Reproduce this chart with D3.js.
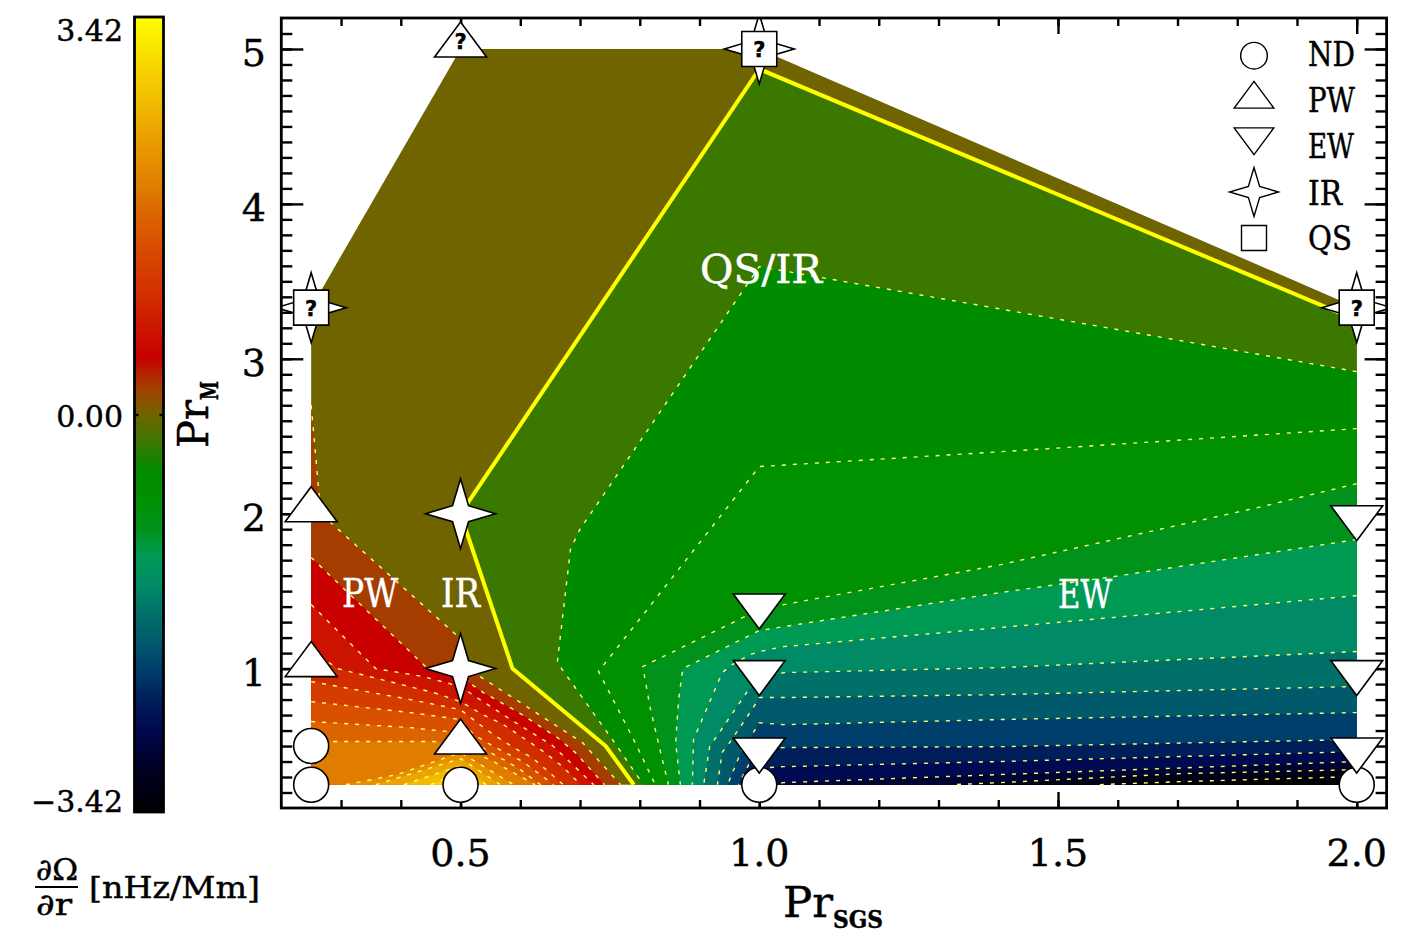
<!DOCTYPE html>
<html>
<head>
<meta charset="utf-8">
<style>
  body { margin: 0; background: #fff; }
  text { font-family: "DejaVu Serif"; fill: #000; stroke: #000; stroke-width: 0.45px; }
</style>
<script src="https://cdn.jsdelivr.net/npm/d3@7"></script>
</head>
<body>
<svg id="chart" width="1417" height="944"></svg>
<script>

// DATA
// --------------------------------------------------------------------------

// Contour levels of the rotation gradient, nHz/Mm.
var levels = [0, 0.24, 0.49, 0.73, 0.98, 1.22, 1.47, 1.71, 1.95, 2.2, 2.44,
  2.69, 2.93, 3.18, 3.42];

// Colour table.
var barValues = [-3.42, -3.0, -2.69, -2.44, -2.2, -1.95, -1.71, -1.47, -1.22,
  -0.98, -0.73, -0.49, -0.24, 0, 0.24, 0.49, 0.73, 0.98, 1.22, 1.47, 1.71,
  1.95, 2.2, 2.44, 2.69, 2.93, 3.18, 3.42];
var barColors = ['#000000', '#000028', '#000a50', '#001f5a', '#003e6c',
  '#005a6c', '#007068', '#008a66', '#009a55', '#00921a', '#009000', '#008c00',
  '#3a7800', '#706400', '#a53c00', '#c80000', '#cc1400', '#d12c00', '#d43c00',
  '#d85000', '#dc6400', '#e07c00', '#e69000', '#eca400', '#f0bc00', '#f6d000',
  '#fae800', '#ffff00'];
var barTicks = [-3.42, 0, 3.42];
var barTickLabels = ['\u22123.42', '0.00', '3.42'];

// Outline of the sampled parameter space [Pr_SGS, Pr_M].
var hull = [[0.25, 0.25], [0.25, 3.33], [0.5, 5], [1, 5], [2, 3.33], [2, 0.25]];

// Zero contour.
var zeroContour = [[2, 3.25], [1, 4.87], [0.5, 2], [0.587, 1], [0.743, 0.5],
  [0.79, 0.25]];

// Contours of positive gradient, one per level above zero.
var positiveContours = [
  [[0.25, 2.7], [0.266, 2], [0.492, 1.22], [0.512, 1], [0.704, 0.522], [0.768, 0.25]],
  [[0.25, 1.717], [0.445, 1], [0.5, 0.948], [0.538, 0.845], [0.595, 0.722], [0.662, 0.555], [0.692, 0.458], [0.741, 0.25]],
  [[0.25, 1.413], [0.358, 1], [0.438, 0.948], [0.5, 0.884], [0.525, 0.819], [0.584, 0.671], [0.654, 0.503], [0.723, 0.25]],
  [[0.25, 1.123], [0.294, 1], [0.455, 0.845], [0.5, 0.787], [0.537, 0.703], [0.572, 0.638], [0.604, 0.555], [0.639, 0.464], [0.671, 0.367], [0.701, 0.25]],
  [[0.25, 0.916], [0.416, 0.8], [0.5, 0.735], [0.528, 0.651], [0.555, 0.574], [0.589, 0.49], [0.62, 0.425], [0.647, 0.335], [0.672, 0.25]],
  [[0.25, 0.787], [0.416, 0.716], [0.5, 0.671], [0.522, 0.574], [0.55, 0.509], [0.575, 0.458], [0.604, 0.4], [0.656, 0.25]],
  [[0.25, 0.658], [0.416, 0.619], [0.461, 0.6], [0.5, 0.587], [0.547, 0.464], [0.572, 0.413], [0.6, 0.348], [0.634, 0.25]],
  [[0.25, 0.529], [0.455, 0.529], [0.5, 0.503], [0.555, 0.4], [0.625, 0.25]],
  [[0.308, 0.25], [0.394, 0.316], [0.5, 0.458], [0.589, 0.25]],
  [[0.358, 0.25], [0.5, 0.419], [0.567, 0.25]],
  [[0.405, 0.25], [0.5, 0.374], [0.543, 0.25]],
  [[0.45, 0.25], [0.5, 0.329], [0.521, 0.25]],
  [[0.487, 0.25], [0.5, 0.283], [0.51, 0.25]]
];

// Contours of negative gradient, one per level below zero.
var negativeContours = [
  [[2, 2.917], [1, 3.595], [0.7, 1.9], [0.684, 1.77], [0.662, 1.039], [0.76, 0.51], [0.806, 0.25]],
  [[2, 2.549], [1.404, 2.4], [1, 2.304], [0.731, 0.981], [0.79, 0.54], [0.826, 0.25]],
  [[2, 2.194], [1.834, 2.039], [1.404, 1.671], [1.041, 1.413], [1, 1.381], [0.805, 1.013], [0.818, 0.735], [0.835, 0.458], [0.848, 0.25]],
  [[2, 1.833], [1.593, 1.594], [1.404, 1.491], [1.041, 1.271], [1, 1.245], [0.872, 1], [0.865, 0.8], [0.86, 0.52], [0.868, 0.25]],
  [[2, 1.471], [1.404, 1.265], [1.041, 1.142], [1, 1.11], [0.985, 1.09], [0.955, 1.026], [0.938, 0.974], [0.89, 0.542], [0.888, 0.25]],
  [[2, 1.11], [1.404, 1.006], [1.041, 0.974], [1, 0.93], [0.98, 0.852], [0.917, 0.496], [0.907, 0.25]],
  [[2, 0.884], [1.404, 0.832], [1.041, 0.813], [1, 0.813], [0.99, 0.748], [0.95, 0.52], [0.938, 0.46], [0.93, 0.25]],
  [[2, 0.716], [1.404, 0.671], [1.041, 0.638], [1, 0.65], [0.99, 0.587], [0.969, 0.458], [0.947, 0.25]],
  [[2, 0.542], [1.404, 0.496], [1.041, 0.49], [1, 0.48], [0.985, 0.4], [0.965, 0.25]],
  [[2, 0.464], [1.404, 0.4], [1.041, 0.367], [1.014, 0.361], [0.99, 0.25]],
  [[2, 0.4], [1.404, 0.316], [1.041, 0.264], [1.02, 0.25]],
  [[2, 0.348], [1.705, 0.322], [1.404, 0.264], [1.32, 0.25]],
  [[2, 0.303], [1.705, 0.27], [1.563, 0.25]]
];

// Simulations, by regime.
var runsND = [[0.25, 0.25], [0.25, 0.5], [0.5, 0.25], [1, 0.25], [2, 0.25]];
var runsPW = [[0.25, 1], [0.25, 2], [0.5, 0.5]];
var runsPWUnsure = [[0.5, 5]];
var runsEW = [[1, 0.5], [1, 1], [1, 1.43], [2, 0.5], [2, 1], [2, 2]];
var runsIR = [[0.5, 1], [0.5, 2]];
var runsQSIRUnsure = [[0.25, 3.33], [1, 5], [2, 3.33]];

var legendLabels = ['ND', 'PW', 'EW', 'IR', 'QS'];
var xMajorTicks = [0.5, 1, 1.5, 2];
var xMinorTicks = d3.range(3, 21).map(function(d) { return d / 10; });
var yMajorTicks = [1, 2, 3, 4, 5];
var yMinorTicks = d3.range(2, 52).map(function(d) { return d / 10; });


// SCALES
// --------------------------------------------------------------------------

var x = d3.scaleLinear().domain([0.2, 2.05]).range([281.3, 1386.6]);
var y = d3.scaleLinear().domain([0.1, 5.2]).range([808, 18]);
var barY = d3.scaleLinear().domain([-3.42, 3.42]).range([812, 17]);
var color = d3.scaleLinear().domain(barValues).range(barColors);

var svg = d3.select('#chart');
var toPath = d3.line()
  .x(function(d) { return x(d[0]); })
  .y(function(d) { return y(d[1]); });


// MARKERS
// --------------------------------------------------------------------------

function polygon(points) {
  return {
    draw: function(context, size) {
      var s = Math.sqrt(size);
      points.forEach(function(p, i) {
        if (i) context.lineTo(p[0] * s, p[1] * s);
        else context.moveTo(p[0] * s, p[1] * s);
      });
      context.closePath();
    }
  };
}

var shapeCircle = {
  draw: function(context, size) {
    var r = 17.5 * Math.sqrt(size);
    context.moveTo(r, 0);
    context.arc(0, 0, r, 0, 2 * Math.PI);
  }
};
var shapeUp = polygon([[0, -27], [26, 8], [-26, 8]]);
var shapeDown = polygon([[0, 27], [26, -8], [-26, -8]]);
var shapeSquare = polygon([[-17.5, -17.5], [17.5, -17.5], [17.5, 17.5], [-17.5, 17.5]]);
var shapeStar = polygon([[0, -35], [8, -8], [35, 0], [8, 8], [0, 35], [-8, 8],
  [-35, 0], [-8, -8]]);


// FILLED CONTOURS
// --------------------------------------------------------------------------

var plot = svg.append('g');

plot.append('path')
  .attr('d', toPath(hull) + 'Z')
  .attr('fill', color(levels[0]));

// Each region is painted over the one before it, from zero outwards.
positiveContours.forEach(function(line, i) {
  var closed = line[0][0] === 0.25 ? line.concat([[0.25, 0.25]]) : line;
  plot.append('path')
    .attr('d', toPath(closed) + 'Z')
    .attr('fill', color(levels[i + 1]));
});

[zeroContour].concat(negativeContours).forEach(function(line, i) {
  plot.append('path')
    .attr('d', toPath(line.concat([[2, 0.25]])) + 'Z')
    .attr('fill', color(-levels[i + 1]));
});

// Dashed contour lines, then the solid zero line.
plot.selectAll('path.contour')
  .data(positiveContours.concat(negativeContours))
  .enter().append('path')
  .attr('class', 'contour')
  .attr('d', toPath)
  .attr('fill', 'none')
  .attr('stroke', '#ffff70')
  .attr('stroke-width', 1.4)
  .attr('stroke-dasharray', '4 7');

plot.append('path')
  .attr('d', toPath(zeroContour))
  .attr('fill', 'none')
  .attr('stroke', '#ffff00')
  .attr('stroke-width', 4);


// REGIME LABELS
// --------------------------------------------------------------------------

function label(parent, str, px, py, size, width, fill) {
  var t = parent.append('text')
    .attr('x', px)
    .attr('y', py)
    .style('font-size', size + 'px')
    .text(str);
  if (width) t.attr('textLength', width).attr('lengthAdjust', 'spacingAndGlyphs');
  if (fill) t.style('fill', fill).style('stroke', fill);
  return t;
}

label(svg, 'PW', 342, 607, 39, 56, '#fff');
label(svg, 'IR', 441, 607, 39, 39, '#fff');
label(svg, 'EW', 1058, 608, 39, 54, '#fff');
label(svg, 'QS/IR', 700, 283, 39, 122, '#fff');


// AXES
// --------------------------------------------------------------------------

function styleAxis(g) {
  g.select('.domain').remove();
  g.selectAll('line').attr('stroke', '#000').attr('stroke-width', 2.4);
}

function addAxis(axis, values, length, dx, dy) {
  svg.append('g')
    .attr('transform', 'translate(' + dx + ',' + dy + ')')
    .call(axis.tickValues(values).tickSize(-length).tickFormat(''))
    .call(styleAxis);
}

var left = x.range()[0], right = x.range()[1];
var bottom = y.range()[0], top_ = y.range()[1];

addAxis(d3.axisBottom(x), xMinorTicks, 8, 0, bottom);
addAxis(d3.axisBottom(x), xMajorTicks, 16, 0, bottom);
addAxis(d3.axisTop(x), xMinorTicks, 8, 0, top_);
addAxis(d3.axisTop(x), xMajorTicks, 16, 0, top_);
addAxis(d3.axisLeft(y), yMinorTicks, 11, left, 0);
addAxis(d3.axisLeft(y), yMajorTicks, 22, left, 0);
addAxis(d3.axisRight(y), yMinorTicks, 11, right, 0);
addAxis(d3.axisRight(y), yMajorTicks, 22, right, 0);

svg.selectAll('text.xtick')
  .data(xMajorTicks)
  .enter().append('text')
  .attr('class', 'xtick')
  .attr('x', function(d) { return x(d); })
  .attr('y', 866)
  .attr('text-anchor', 'middle')
  .style('font-size', '38px')
  .text(d3.format('.1f'));

svg.selectAll('text.ytick')
  .data(yMajorTicks)
  .enter().append('text')
  .attr('class', 'ytick')
  .attr('x', 266)
  .attr('y', function(d) { return y(d) + 17; })
  .attr('text-anchor', 'end')
  .style('font-size', '38px')
  .text(String);

label(svg, 'Pr', 783, 917, 42, 50);
label(svg, 'SGS', 833, 928, 24, 50).style('font-weight', 'bold');

svg.append('g')
  .attr('transform', 'translate(208,448) rotate(-90)')
  .call(function(g) {
    label(g, 'Pr', 0, 0, 42, 48);
    label(g, 'M', 48, 10, 24, 19).style('font-weight', 'bold');
  });


// SIMULATION MARKERS
// --------------------------------------------------------------------------

svg.append('clipPath').attr('id', 'frame')
  .append('rect')
  .attr('x', left).attr('y', top_)
  .attr('width', right - left)
  .attr('height', bottom - top_);

var marks = svg.append('g').attr('clip-path', 'url(#frame)');

function drawRuns(runs, shape) {
  marks.selectAll(null)
    .data(runs)
    .enter().append('path')
    .attr('d', d3.symbol().type(shape).size(1))
    .attr('transform', function(d) {
      return 'translate(' + x(d[0]) + ',' + y(d[1]) + ')';
    })
    .attr('fill', '#fff')
    .attr('stroke', '#000')
    .attr('stroke-width', 1.6);
}

function drawQuestion(runs, dy) {
  marks.selectAll(null)
    .data(runs)
    .enter().append('text')
    .attr('x', function(d) { return x(d[0]); })
    .attr('y', function(d) { return y(d[1]) + dy; })
    .attr('text-anchor', 'middle')
    .style('font-family', '"DejaVu Sans"')
    .style('font-weight', 'bold')
    .style('font-size', '21px')
    .text('?');
}

drawRuns(runsND, shapeCircle);
drawRuns(runsPW.concat(runsPWUnsure), shapeUp);
drawRuns(runsEW, shapeDown);
drawRuns(runsIR, shapeStar);
drawRuns(runsQSIRUnsure, shapeStar);
drawRuns(runsQSIRUnsure, shapeSquare);
drawQuestion(runsPWUnsure, 0);
drawQuestion(runsQSIRUnsure, 8);

svg.append('rect')
  .attr('x', left).attr('y', top_)
  .attr('width', right - left).attr('height', bottom - top_)
  .attr('fill', 'none')
  .attr('stroke', '#000')
  .attr('stroke-width', 2.8);


// COLOUR BAR
// --------------------------------------------------------------------------

var gradient = svg.append('defs').append('linearGradient')
  .attr('id', 'bar')
  .attr('x1', 0).attr('y1', 1).attr('x2', 0).attr('y2', 0);

gradient.selectAll('stop')
  .data(barValues)
  .enter().append('stop')
  .attr('offset', function(d) { return (d + 3.42) / 6.84; })
  .attr('stop-color', color);

svg.append('rect')
  .attr('x', 134.5).attr('y', barY(3.42))
  .attr('width', 29).attr('height', barY(-3.42) - barY(3.42))
  .attr('fill', 'url(#bar)')
  .attr('stroke', '#000')
  .attr('stroke-width', 2.8);

svg.append('g')
  .attr('transform', 'translate(134.5,0)')
  .call(d3.axisLeft(barY).tickValues([0]).tickSize(-4).tickFormat(''))
  .call(styleAxis);

svg.append('g')
  .attr('transform', 'translate(163.5,0)')
  .call(d3.axisRight(barY).tickValues([0]).tickSize(-4).tickFormat(''))
  .call(styleAxis);

svg.selectAll('text.bartick')
  .data(barTicks)
  .enter().append('text')
  .attr('class', 'bartick')
  .attr('x', 123)
  .attr('y', function(d) { return d === 3.42 ? 40.5 : d === 0 ? 427 : 812; })
  .attr('text-anchor', 'end')
  .style('font-size', '30px')
  .text(function(d, i) { return barTickLabels[i]; });

label(svg, '\u2202\u03a9', 36, 880, 30, 42);
label(svg, '\u2202r', 36, 915, 30, 36);
svg.append('line')
  .attr('x1', 35).attr('x2', 78)
  .attr('y1', 887).attr('y2', 887)
  .attr('stroke', '#000')
  .attr('stroke-width', 2);
label(svg, '[nHz/Mm]', 89, 898, 30, 171);


// LEGEND
// --------------------------------------------------------------------------

var legendShapes = [shapeCircle, shapeUp, shapeDown, shapeStar, shapeSquare];
var legendSizes = [0.58, 0.58, 0.58, 0.49, 0.51];
var legendCentres = [55.7, 102, 134, 192, 238];
var legendBaselines = [66, 112, 158, 205, 250];
var legendWidths = [47, 47, 46, 34, 44];

legendLabels.forEach(function(name, i) {
  svg.append('path')
    .attr('d', d3.symbol().type(legendShapes[i]).size(legendSizes[i]))
    .attr('transform', 'translate(1254,' + legendCentres[i] + ')')
    .attr('fill', '#fff')
    .attr('stroke', '#000')
    .attr('stroke-width', 1.4);
  label(svg, name, 1308, legendBaselines[i], 33, legendWidths[i]);
});

</script>
</body>
</html>
